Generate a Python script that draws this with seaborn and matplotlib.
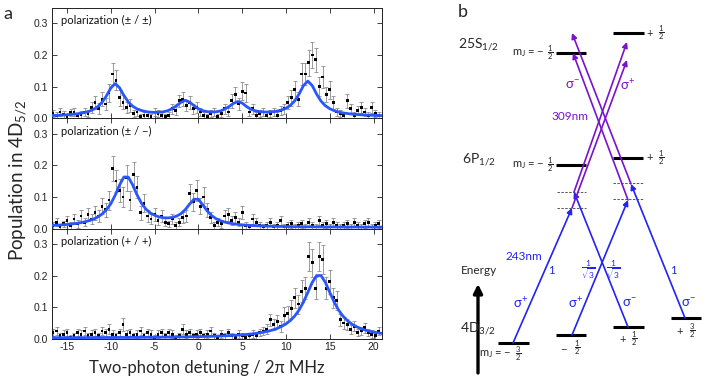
import matplotlib
matplotlib.use('Agg')
import matplotlib.pyplot as plt
import seaborn as sns
import numpy as np
import pandas as pd

# ── Data ────────────────────────────────────────────────────────────────────
SCAN_X = [
    -16.6, -16.2, -15.8, -15.4, -15.0, -14.6, -14.2, -13.8, -13.4, -13.0,
    -12.6, -12.2, -11.8, -11.4, -11.0, -10.6, -10.2, -9.8, -9.4, -9.0,
    -8.6, -8.2, -7.8, -7.4, -7.0, -6.6, -6.2, -5.8, -5.4, -5.0,
    -4.6, -4.2, -3.8, -3.4, -3.0, -2.6, -2.2, -1.8, -1.4, -1.0,
    -0.6, -0.2, 0.2, 0.6, 1.0, 1.4, 1.8, 2.2, 2.6, 3.0,
    3.4, 3.8, 4.2, 4.6, 5.0, 5.4, 5.8, 6.2, 6.6, 7.0,
    7.4, 7.8, 8.2, 8.6, 9.0, 9.4, 9.8, 10.2, 10.6, 11.0,
    11.4, 11.8, 12.2, 12.6, 13.0, 13.4, 13.8, 14.2, 14.6, 15.0,
    15.4, 15.8, 16.2, 16.6, 17.0, 17.4, 17.8, 18.2, 18.6, 19.0,
    19.4, 19.8, 20.2, 20.6,
]

POP_PM_PM = [
    0.015, 0.010, 0.020, 0.012, 0.005, 0.018, 0.020, 0.008, 0.012, 0.020,
    0.015, 0.035, 0.050, 0.030, 0.060, 0.045, 0.080, 0.140, 0.120, 0.065,
    0.050, 0.035, 0.040, 0.015, 0.020, 0.005, 0.010, 0.010, 0.005, 0.020,
    0.015, 0.010, 0.005, 0.010, 0.030, 0.025, 0.055, 0.060, 0.040, 0.050,
    0.030, 0.035, 0.020, 0.010, 0.005, 0.015, 0.020, 0.005, 0.015, 0.030,
    0.020, 0.055, 0.075, 0.045, 0.085, 0.080, 0.020, 0.030, 0.010, 0.015,
    0.020, 0.010, 0.015, 0.020, 0.010, 0.025, 0.030, 0.050, 0.065, 0.090,
    0.060, 0.140, 0.140, 0.175, 0.200, 0.185, 0.100, 0.130, 0.075, 0.090,
    0.050, 0.020, 0.015, 0.010, 0.055, 0.030, 0.010, 0.025, 0.035, 0.020,
    0.010, 0.035, 0.015, 0.010,
]
ERR_PM_PM = [
    0.012, 0.010, 0.012, 0.010, 0.008, 0.012, 0.012, 0.010, 0.010, 0.012,
    0.012, 0.018, 0.020, 0.018, 0.022, 0.020, 0.028, 0.035, 0.032, 0.025,
    0.022, 0.018, 0.020, 0.012, 0.012, 0.008, 0.010, 0.010, 0.008, 0.012,
    0.012, 0.010, 0.008, 0.010, 0.015, 0.015, 0.020, 0.022, 0.018, 0.020,
    0.015, 0.018, 0.012, 0.010, 0.008, 0.012, 0.012, 0.008, 0.012, 0.015,
    0.012, 0.022, 0.025, 0.020, 0.028, 0.028, 0.012, 0.015, 0.010, 0.012,
    0.012, 0.010, 0.012, 0.012, 0.010, 0.015, 0.015, 0.020, 0.025, 0.028,
    0.022, 0.035, 0.035, 0.040, 0.040, 0.038, 0.030, 0.035, 0.025, 0.028,
    0.020, 0.012, 0.012, 0.010, 0.022, 0.015, 0.010, 0.015, 0.018, 0.012,
    0.010, 0.018, 0.012, 0.010,
]

POP_PM_M = [
    0.010, 0.020, 0.005, 0.015, 0.025, 0.010, 0.030, 0.015, 0.040, 0.020,
    0.045, 0.030, 0.050, 0.040, 0.070, 0.060, 0.090, 0.190, 0.150, 0.120,
    0.100, 0.160, 0.090, 0.170, 0.130, 0.050, 0.080, 0.040, 0.030, 0.045,
    0.025, 0.040, 0.020, 0.015, 0.030, 0.010, 0.020, 0.035, 0.040, 0.110,
    0.085, 0.120, 0.070, 0.100, 0.060, 0.035, 0.010, 0.020, 0.015, 0.040,
    0.045, 0.025, 0.035, 0.020, 0.050, 0.010, 0.005, 0.030, 0.020, 0.010,
    0.005, 0.010, 0.020, 0.005, 0.010, 0.025, 0.005, 0.010, 0.015, 0.005,
    0.010, 0.015, 0.005, 0.020, 0.010, 0.005, 0.025, 0.010, 0.015, 0.005,
    0.020, 0.010, 0.005, 0.010, 0.015, 0.005, 0.020, 0.010, 0.005, 0.015,
    0.020, 0.005, 0.010, 0.015,
]
ERR_PM_M = [
    0.010, 0.012, 0.008, 0.010, 0.015, 0.010, 0.015, 0.012, 0.018, 0.012,
    0.020, 0.015, 0.022, 0.018, 0.025, 0.022, 0.030, 0.040, 0.035, 0.035,
    0.032, 0.040, 0.030, 0.040, 0.035, 0.022, 0.028, 0.018, 0.015, 0.020,
    0.015, 0.018, 0.012, 0.010, 0.015, 0.010, 0.012, 0.018, 0.020, 0.030,
    0.028, 0.032, 0.025, 0.030, 0.022, 0.018, 0.010, 0.012, 0.012, 0.018,
    0.020, 0.015, 0.018, 0.012, 0.020, 0.010, 0.008, 0.015, 0.012, 0.010,
    0.008, 0.010, 0.012, 0.008, 0.010, 0.015, 0.008, 0.010, 0.012, 0.008,
    0.010, 0.012, 0.008, 0.012, 0.010, 0.008, 0.015, 0.010, 0.012, 0.008,
    0.012, 0.010, 0.008, 0.010, 0.012, 0.008, 0.012, 0.010, 0.008, 0.012,
    0.012, 0.008, 0.010, 0.012,
]

POP_P_P = [
    0.020, 0.025, 0.010, 0.015, 0.020, 0.005, 0.010, 0.020, 0.015, 0.025,
    0.010, 0.015, 0.020, 0.010, 0.025, 0.020, 0.030, 0.015, 0.010, 0.020,
    0.045, 0.015, 0.020, 0.010, 0.015, 0.025, 0.010, 0.020, 0.015, 0.005,
    0.015, 0.020, 0.010, 0.020, 0.015, 0.005, 0.010, 0.030, 0.015, 0.020,
    0.010, 0.015, 0.020, 0.010, 0.015, 0.025, 0.010, 0.005, 0.015, 0.010,
    0.020, 0.010, 0.005, 0.015, 0.010, 0.005, 0.010, 0.015, 0.010, 0.020,
    0.025, 0.030, 0.060, 0.045, 0.055, 0.040, 0.075, 0.080, 0.095, 0.130,
    0.110, 0.150, 0.160, 0.260, 0.240, 0.160, 0.260, 0.250, 0.160, 0.180,
    0.130, 0.120, 0.060, 0.050, 0.045, 0.030, 0.040, 0.020, 0.025, 0.035,
    0.020, 0.015, 0.010, 0.025,
]
ERR_P_P = [
    0.012, 0.014, 0.010, 0.012, 0.012, 0.008, 0.010, 0.012, 0.012, 0.014,
    0.010, 0.012, 0.012, 0.010, 0.014, 0.012, 0.016, 0.012, 0.010, 0.012,
    0.020, 0.012, 0.012, 0.010, 0.012, 0.014, 0.010, 0.012, 0.012, 0.008,
    0.012, 0.012, 0.010, 0.012, 0.012, 0.008, 0.010, 0.016, 0.012, 0.012,
    0.010, 0.012, 0.012, 0.010, 0.012, 0.014, 0.010, 0.008, 0.012, 0.010,
    0.012, 0.010, 0.008, 0.012, 0.010, 0.008, 0.010, 0.012, 0.010, 0.012,
    0.014, 0.016, 0.020, 0.018, 0.020, 0.018, 0.025, 0.025, 0.028, 0.032,
    0.030, 0.035, 0.035, 0.045, 0.045, 0.035, 0.045, 0.045, 0.035, 0.038,
    0.032, 0.030, 0.020, 0.018, 0.018, 0.015, 0.016, 0.012, 0.014, 0.016,
    0.012, 0.012, 0.010, 0.014,
]

CURVE_X = [
    -17.0, -16.5, -16.0, -15.5, -15.0, -14.5, -14.0, -13.5, -13.0, -12.5,
    -12.0, -11.5, -11.0, -10.5, -10.0, -9.5, -9.0, -8.5, -8.0, -7.5,
    -7.0, -6.5, -6.0, -5.5, -5.0, -4.5, -4.0, -3.5, -3.0, -2.5,
    -2.0, -1.5, -1.0, -0.5, 0.0, 0.5, 1.0, 1.5, 2.0, 2.5,
    3.0, 3.5, 4.0, 4.5, 5.0, 5.5, 6.0, 6.5, 7.0, 7.5,
    8.0, 8.5, 9.0, 9.5, 10.0, 10.5, 11.0, 11.5, 12.0, 12.5,
    13.0, 13.5, 14.0, 14.5, 15.0, 15.5, 16.0, 16.5, 17.0, 17.5,
    18.0, 18.5, 19.0, 19.5, 20.0, 20.5, 21.0,
]
FIT_PM_PM = [
    0.0086, 0.0091, 0.0096, 0.0103, 0.0110, 0.0122, 0.0137, 0.0156, 0.0180, 0.0218,
    0.0279, 0.0366, 0.0503, 0.0708, 0.0958, 0.1095, 0.0962, 0.0716, 0.0513, 0.0380,
    0.0296, 0.0245, 0.0212, 0.0193, 0.0185, 0.0190, 0.0205, 0.0240, 0.0300, 0.0400,
    0.0500, 0.0570, 0.0510, 0.0400, 0.0300, 0.0240, 0.0210, 0.0198, 0.0205, 0.0228,
    0.0290, 0.0370, 0.0470, 0.0530, 0.0480, 0.0370, 0.0285, 0.0236, 0.0210, 0.0198,
    0.0198, 0.0207, 0.0227, 0.0263, 0.0317, 0.0407, 0.0549, 0.0767, 0.1033, 0.1174,
    0.1031, 0.0763, 0.0543, 0.0397, 0.0303, 0.0242, 0.0200, 0.0171, 0.0150, 0.0135,
    0.0122, 0.0112, 0.0105, 0.0099, 0.0094, 0.0089, 0.0086,
]
FIT_PM_M = [
    0.0097, 0.0103, 0.0110, 0.0120, 0.0131, 0.0145, 0.0162, 0.0184, 0.0212, 0.0248,
    0.0297, 0.0364, 0.0459, 0.0594, 0.0786, 0.1055, 0.1376, 0.1629, 0.1624, 0.1376,
    0.1062, 0.0801, 0.0616, 0.0495, 0.0420, 0.0370, 0.0342, 0.0337, 0.0351, 0.0393,
    0.0469, 0.0598, 0.0774, 0.0929, 0.0922, 0.0752, 0.0560, 0.0413, 0.0315, 0.0250,
    0.0206, 0.0174, 0.0151, 0.0133, 0.0119, 0.0108, 0.0099, 0.0092, 0.0086, 0.0081,
    0.0077, 0.0073, 0.0070, 0.0067, 0.0065, 0.0063, 0.0061, 0.0060, 0.0058, 0.0057,
    0.0056, 0.0055, 0.0054, 0.0053, 0.0052, 0.0052, 0.0051, 0.0051, 0.0050, 0.0050,
    0.0049, 0.0049, 0.0048, 0.0048, 0.0048, 0.0047, 0.0047,
]
FIT_P_P = [
    0.0038, 0.0039, 0.0039, 0.0039, 0.0040, 0.0040, 0.0040, 0.0041, 0.0041, 0.0042,
    0.0042, 0.0042, 0.0043, 0.0044, 0.0044, 0.0045, 0.0045, 0.0046, 0.0047, 0.0048,
    0.0048, 0.0049, 0.0050, 0.0051, 0.0053, 0.0054, 0.0055, 0.0057, 0.0058, 0.0060,
    0.0062, 0.0064, 0.0066, 0.0069, 0.0071, 0.0075, 0.0078, 0.0082, 0.0086, 0.0091,
    0.0097, 0.0103, 0.0111, 0.0119, 0.0129, 0.0141, 0.0155, 0.0171, 0.0191, 0.0216,
    0.0246, 0.0283, 0.0331, 0.0393, 0.0473, 0.0579, 0.0722, 0.0913, 0.1163, 0.1468,
    0.1783, 0.1999, 0.1999, 0.1783, 0.1468, 0.1163, 0.0913, 0.0722, 0.0579, 0.0473,
    0.0393, 0.0331, 0.0283, 0.0246, 0.0216, 0.0191, 0.0171,
]

PANEL_LABELS = ['polarization (± / ±)', 'polarization (± / −)', 'polarization (+ / +)']
X_TICKS = [-15, -10, -5, 0, 5, 10, 15, 20]
Y_TICKS = [0.0, 0.1, 0.2, 0.3]

# ── Level scheme (panel b), in figure pixel units ───────────────────────────
LEVELS_25S = [(556, 586, 53), (613, 644, 33)]
LEVELS_6P = [(556, 586, 165), (613, 643, 158)]
LEVELS_4D = [(498, 529, 343), (556, 586, 335), (613, 644, 327), (671, 701, 318)]
VIRTUAL = [(557, 586, 192), (557, 586, 208), (613, 643, 183), (613, 643, 199)]
ARROWS_243 = [((513, 343), (572, 208)), ((572, 335), (628, 200)),
              ((628, 327), (574, 192)), ((685, 318), (631, 184))]
ARROWS_309 = [((631, 184), (572, 33)), ((628, 200), (573, 53)),
              ((572, 208), (627, 60)), ((574, 192), (627, 42))]
# m_J labels: (sign text, sign x, fraction numerator/denominator, fraction x, y)
MJ_LABELS = [
    ('m$_\\mathrm{J}$ = $-$', 545, ('1', '2'), 550, 53),
    ('m$_\\mathrm{J}$ = $-$', 545, ('1', '2'), 550, 165),
    ('+', 653, ('1', '2'), 661, 33),
    ('+', 653, ('1', '2'), 661, 158),
    ('m$_\\mathrm{J}$ = $-$', 512, ('3', '2'), 518, 354),
    ('$-$', 568, ('1', '2'), 577, 348),
    ('+', 626, ('1', '2'), 634, 339),
    ('+', 683, ('3', '2'), 692, 331),
]

# ── Style ───────────────────────────────────────────────────────────────────
FIT_BLUE = '#2a56ff'
UV_BLUE = '#2222f5'
UV_PURPLE = '#7a12cc'
ERR_GREY = '#8c8c8c'
W, H = 706, 384

sns.set_theme(style='ticks')
plt.rcParams['font.family'] = ['Lato', 'DejaVu Sans']
plt.rcParams.update({
    'mathtext.fontset': 'custom',
    'mathtext.rm': 'Lato',
    'mathtext.it': 'Lato:italic',
    'mathtext.bf': 'Lato:bold',
    'mathtext.sf': 'Lato',
    'axes.unicode_minus': False,
    'axes.edgecolor': '#222222',
    'axes.linewidth': 0.7,
})

fig = plt.figure(figsize=(W / 100, H / 100), dpi=100)


def px_axes(x0, y0, x1, y1):
    return fig.add_axes([x0 / W, 1 - y1 / H, (x1 - x0) / W, (y1 - y0) / H])


panels = [(POP_PM_PM, ERR_PM_PM, FIT_PM_PM),
          (POP_PM_M, ERR_PM_M, FIT_PM_M),
          (POP_P_P, ERR_P_P, FIT_P_P)]
tops = [8, 118.3, 228.6]

for i, (pop, err, fit) in enumerate(panels):
    ax = px_axes(51.7, tops[i], 382.3, tops[i] + 110.3)
    ax.errorbar(SCAN_X, pop, yerr=err, fmt='none', ecolor=ERR_GREY,
                elinewidth=0.6, capsize=1.7, capthick=0.6, zorder=2)
    sns.scatterplot(x=SCAN_X, y=pop, ax=ax, marker='s', s=4, color='black',
                    edgecolor='none', zorder=3, legend=False)
    sns.lineplot(x=CURVE_X, y=fit, ax=ax, color=FIT_BLUE, lw=2.0, sort=False,
                 zorder=4, legend=False)
    ax.set_xlim(-16.75, 21.0)
    ax.set_ylim(0, 0.348)
    ax.set_xticks(X_TICKS)
    ax.set_yticks(Y_TICKS)
    ax.set_yticklabels([f'{v:.1f}' for v in Y_TICKS])
    ax.tick_params(direction='in', top=True, right=True, length=3.5, width=0.6,
                   labelsize=7.5, pad=2.5, colors='#222222')
    if i < 2:
        ax.tick_params(labelbottom=False)
    for lab in ax.get_xticklabels() + ax.get_yticklabels():
        lab.set_fontfamily('Liberation Sans')
    ax.set_xlabel('')
    ax.set_ylabel('')
    ax.text(0.027, 0.885, PANEL_LABELS[i], transform=ax.transAxes,
            fontsize=8, va='center', ha='left', color='#111111')

fig.text(207 / W, 1 - 368 / H, 'Two-photon detuning / 2π MHz',
         ha='center', va='center', fontsize=12)
fig.text(18 / W, 1 - 180 / H, r'Population in 4D$_{5/2}$',
         ha='center', va='center', rotation=90, fontsize=13.5)
fig.text(8 / W, 1 - 14 / H, 'a', ha='center', va='center', fontsize=13)
fig.text(463 / W, 1 - 12 / H, 'b', ha='center', va='center', fontsize=13)

# ── Panel b: level diagram ──────────────────────────────────────────────────
axb = fig.add_axes([455 / W, 0, (W - 455) / W, 1])
axb.set_xlim(455, W)
axb.set_ylim(H, 0)
axb.axis('off')

for x0, x1, y in LEVELS_25S + LEVELS_6P + LEVELS_4D:
    axb.plot([x0, x1], [y, y], color='black', lw=2.2, solid_capstyle='butt')
for x0, x1, y in VIRTUAL:
    axb.plot([x0, x1], [y, y], color='#555555', lw=0.7, ls=(0, (2.5, 1.5)))

for start, tip in ARROWS_243:
    axb.annotate('', xy=tip, xytext=start,
                 arrowprops=dict(arrowstyle='-|>', color=UV_BLUE, lw=1.2,
                                 mutation_scale=8, shrinkA=0, shrinkB=0))
for start, tip in ARROWS_309:
    axb.annotate('', xy=tip, xytext=start,
                 arrowprops=dict(arrowstyle='-|>', color=UV_PURPLE, lw=1.2,
                                 mutation_scale=8, shrinkA=0, shrinkB=0))

# energy axis arrow
axb.annotate('', xy=(478, 284), xytext=(478, 373),
             arrowprops=dict(arrowstyle='-|>', color='black', lw=2.4,
                             mutation_scale=13, shrinkA=0, shrinkB=0))
axb.text(479, 271, 'Energy', ha='center', va='center', fontsize=8.5)

# state labels
axb.text(458, 45, r'25S$_{1/2}$', ha='left', va='center', fontsize=10)
axb.text(462, 160, r'6P$_{1/2}$', ha='left', va='center', fontsize=10)
axb.text(460, 329, r'4D$_{3/2}$', ha='left', va='center', fontsize=10)

for sign, sx, (num, den), fx, y in MJ_LABELS:
    axb.text(sx, y, sign, ha='right', va='center', fontsize=8)
    axb.text(fx, y, r'$\dfrac{%s}{%s}$' % (num, den), ha='center',
             va='center', fontsize=5.5)

# 243 nm labels
axb.text(524, 257, '243nm', ha='center', va='center', fontsize=8.5, color=UV_BLUE)
axb.text(551, 270, '1', ha='center', va='center', fontsize=8, color=UV_BLUE)
axb.text(673, 270, '1', ha='center', va='center', fontsize=8, color=UV_BLUE)
for x in (588, 613):
    axb.text(x, 270, r'$\dfrac{1}{\sqrt{3}}$', ha='center', va='center',
             fontsize=6, color=UV_BLUE)
for x, s in ((520, '+'), (575, '+'), (629, '-'), (688, '-')):
    axb.text(x, 303, r'σ$^{%s}$' % s, ha='center', va='center', fontsize=9.5,
             color=UV_BLUE)

# 309 nm labels
axb.text(570, 117, '309nm', ha='center', va='center', fontsize=8.5, color=UV_PURPLE)
axb.text(572, 85, r'σ$^{-}$', ha='center', va='center', fontsize=9.5, color=UV_PURPLE)
axb.text(627, 85, r'σ$^{+}$', ha='center', va='center', fontsize=9.5, color=UV_PURPLE)

fig.savefig('out.png', dpi=100, facecolor='white')
